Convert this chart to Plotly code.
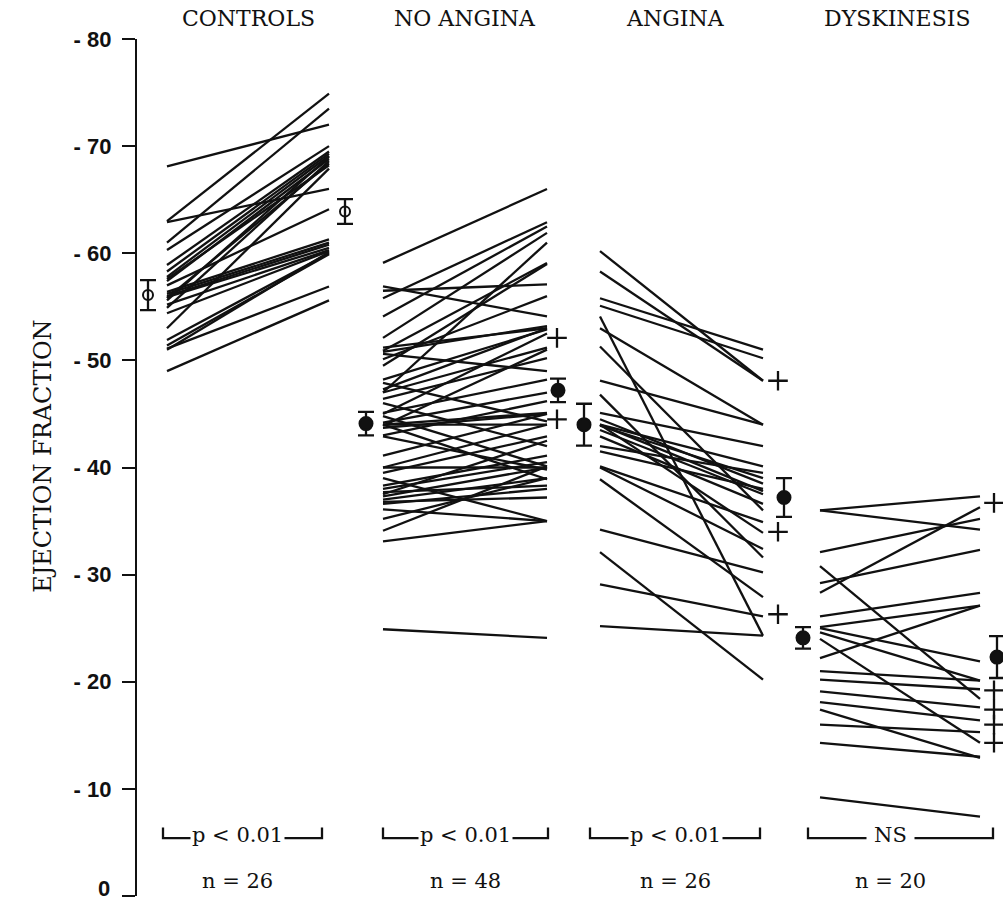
import plotly.graph_objects as go

# ---------------- data ----------------
group_names = ["CONTROLS", "NO ANGINA", "ANGINA", "DYSKINESIS"]
n_labels = ["n = 26", "n = 48", "n = 26", "n = 20"]
p_labels = ["p < 0.01", "p < 0.01", "p < 0.01", "NS"]

tick_vals = [0, 10, 20, 30, 40, 50, 60, 70, 80]
tick_text = ["0", "- 10", "- 20", "- 30", "- 40", "- 50", "- 60", "- 70", "- 80"]

# individual patients: rest -> exercise ejection fraction (%)
controls_rest = [68.1, 63.0, 62.9, 61.0, 60.3, 58.9, 58.3, 57.8, 57.4, 57.0, 56.4, 56.2, 56.0,
                 55.9, 55.6, 55.2, 54.9, 54.4, 53.0, 51.9, 51.4, 51.1, 51.0, 55.8, 57.6, 49.0]
controls_ex = [72.0, 74.9, 66.0, 73.5, 70.0, 69.5, 69.3, 69.1, 68.8, 64.1, 61.3, 61.0, 60.8,
               60.5, 69.0, 60.3, 68.6, 60.2, 67.9, 60.0, 59.9, 56.9, 60.1, 68.4, 68.2, 55.6]

noangina_rest = [59.1, 56.9, 56.5, 55.8, 54.1, 52.1, 51.2, 50.9, 50.8, 50.6, 50.1, 49.5, 48.2,
                 47.9, 47.3, 47.0, 47.0, 46.4, 46.0, 45.1, 45.0, 44.8, 44.2, 44.0, 44.0, 44.0,
                 43.9, 43.7, 43.0, 42.9, 41.1, 40.0, 40.0, 39.5, 39.0, 38.3, 38.0, 37.7, 37.5,
                 37.3, 37.0, 36.8, 36.6, 36.1, 35.2, 34.1, 33.1, 24.9]
noangina_ex = [66.0, 54.1, 57.1, 62.9, 62.5, 61.9, 53.0, 59.1, 53.2, 49.0, 56.0, 59.0, 52.9,
               44.3, 53.0, 51.2, 61.0, 50.2, 42.0, 48.2, 52.5, 40.1, 47.0, 44.0, 45.1, 38.9,
               51.0, 45.0, 46.2, 39.8, 45.0, 40.0, 44.0, 42.9, 35.0, 41.1, 40.5, 38.3, 42.5,
               40.0, 39.0, 37.2, 38.0, 35.0, 39.0, 40.1, 35.0, 24.1]

angina_rest = [60.2, 58.3, 55.8, 55.1, 54.1, 53.0, 51.3, 48.1, 46.8, 45.1, 44.5, 44.0, 44.0,
               44.0, 43.9, 43.5, 42.9, 42.0, 41.5, 40.1, 40.0, 38.9, 34.2, 32.1, 29.1, 25.2]
angina_ex = [48.1, 48.1, 51.0, 50.2, 24.3, 44.0, 36.0, 44.0, 31.6, 42.0, 38.5, 40.1, 37.8,
             33.9, 39.0, 37.5, 36.6, 39.5, 38.0, 34.9, 32.4, 27.9, 30.2, 20.2, 26.1, 24.3]

dysk_rest = [36.0, 36.0, 32.1, 30.8, 29.2, 28.3, 26.1, 25.1, 25.0, 24.6, 24.0, 22.2, 21.0,
             20.2, 19.1, 18.1, 17.4, 16.0, 14.3, 9.2]
dysk_ex = [37.3, 34.2, 35.2, 18.4, 32.3, 36.3, 28.3, 27.1, 21.9, 20.1, 14.3, 27.1, 20.1,
           19.3, 17.6, 16.4, 12.9, 15.3, 13.0, 7.4]

# group means +/- SE
mean_rest = [56.1, 44.1, 44.0, 24.1]
se_rest = [1.4, 1.1, 1.95, 1.0]
mean_ex = [63.9, 47.2, 37.2, 22.3]
se_ex = [1.15, 1.1, 1.8, 1.95]

# values flagged with "+" beside the exercise column
plus_noangina = [52.1, 44.5]
plus_angina = [48.1, 34.0, 26.3]
plus_dysk = [36.7, 19.2, 17.4, 16.0, 14.3]

# ---------------- layout constants (horizontal positions, px) ----------------
W, H = 1003, 905
ML, MR, MT, MB = 137, 0, 39, 9
YMAX = 80.0
line_x0 = [167, 383, 600, 820]
line_x1 = [329, 547, 763, 980]
mean_x_rest = [148, 366, 584, 803]
mean_x_ex = [345, 558, 784, 997]
plus_x = [557, 778, 994]
bracket_x = [(163, 322), (383, 548), (590, 760), (808, 993)]
label_x = [237, 465, 675, 890]
head_x = [248, 465, 675, 897]

INK = "#111111"
SERIF = "DejaVu Serif, Liberation Serif, serif"
SANS = "Liberation Sans, Arial, sans-serif"
LW = 2.3


def xp(px):
    return (px - ML) / (W - ML - MR)


def yp(v):
    return v / YMAX


def note(x, y, text, size, **kw):
    fig.add_annotation(x=x, y=y, xref="paper", yref="paper", text=text,
                       showarrow=False, xanchor="center", yanchor="middle",
                       font=dict(family=kw.pop("family", SERIF), size=size, color=INK,
                                 weight=kw.pop("weight", "normal")),
                       **kw)


rests = [controls_rest, noangina_rest, angina_rest, dysk_rest]
exs = [controls_ex, noangina_ex, angina_ex, dysk_ex]

fig = go.Figure()

# individual paired lines
for g in range(4):
    xs, ys = [], []
    for r, e in zip(rests[g], exs[g]):
        xs += [line_x0[g], line_x1[g], None]
        ys += [r, e, None]
    fig.add_trace(go.Scatter(x=xs, y=ys, mode="lines",
                             line=dict(color=INK, width=LW), hoverinfo="skip",
                             showlegend=False))

# means with SE bars
for g in range(4):
    open_marker = (g == 0)
    for mx, m, s in ((mean_x_rest[g], mean_rest[g], se_rest[g]),
                     (mean_x_ex[g], mean_ex[g], se_ex[g])):
        fig.add_trace(go.Scatter(
            x=[mx], y=[m], mode="markers",
            marker=dict(symbol="circle-open" if open_marker else "circle",
                        size=10 if open_marker else 13,
                        color=INK, line=dict(color=INK, width=2)),
            error_y=dict(type="data", array=[s], color=INK, thickness=2.3, width=8),
            showlegend=False, cliponaxis=False))

# "+" flags
for px, vals in zip(plus_x, [plus_noangina, plus_angina, plus_dysk]):
    fig.add_trace(go.Scatter(
        x=[px] * len(vals), y=vals, mode="markers",
        marker=dict(symbol="cross-thin", size=14, line=dict(color=INK, width=2.3)),
        showlegend=False, cliponaxis=False))

# brackets with p-values, n labels, group headings
y_br = 5.4
y_tick = 6.4
for g in range(4):
    x1, x2 = bracket_x[g]
    fig.add_shape(type="path",
                  path=f"M {x1},{y_tick} L {x1},{y_br} L {x2},{y_br} L {x2},{y_tick}",
                  xref="x", yref="y", line=dict(color=INK, width=LW))
    note(xp(label_x[g]), yp(y_br + 0.3), p_labels[g], 21,
         bgcolor="white", borderpad=1 if g < 3 else 7)
    note(xp(label_x[g]), yp(1.4), n_labels[g], 21)
    note(xp(head_x[g]), yp(81.9), group_names[g], 22)

# y-axis title
note(xp(43), yp(41.0), "EJECTION FRACTION", 24, textangle=-90)

# bottom tick label "0" (placed by hand so it stays inside the page)
note(xp(104), yp(0.7), tick_text[0], 22, family=SANS, weight="bold")

fig.update_layout(
    width=W, height=H,
    margin=dict(l=ML, r=MR, t=MT, b=MB, autoexpand=False),
    paper_bgcolor="white", plot_bgcolor="white",
    xaxis=dict(range=[ML, W], visible=False, fixedrange=True),
    yaxis=dict(range=[0, YMAX], tickvals=tick_vals,
               ticktext=[""] + tick_text[1:],
               showline=True, linecolor=INK, linewidth=2.3,
               ticks="outside", ticklen=13, tickwidth=2.3, tickcolor=INK,
               showgrid=False, zeroline=False, automargin=False,
               ticklabelstandoff=6,
               tickfont=dict(family=SANS, size=22, color=INK, weight="bold")),
    showlegend=False,
)

fig.write_html("out.html")
